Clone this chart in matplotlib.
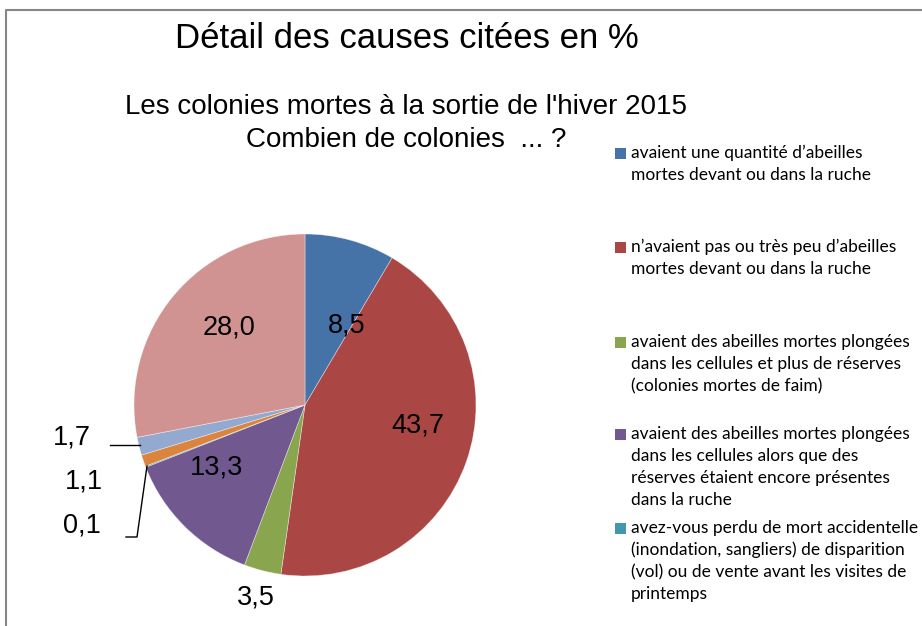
import matplotlib.pyplot as plt
from matplotlib.patches import Rectangle

# data
values = [8.5, 43.7, 3.5, 13.3, 0.1, 1.1, 1.7, 28.0]
value_labels = ['8,5', '43,7', '3,5', '13,3', '0,1', '1,1', '1,7', '28,0']
colors = ['#4572A7', '#AA4643', '#89A54E', '#71588F', '#4198AF', '#DB843D', '#93A9CF', '#D19392']
legend_labels = [
    ["avaient une quantité d\u2019abeilles", "mortes devant ou dans la ruche"],
    ["n\u2019avaient pas ou très peu d\u2019abeilles", "mortes devant ou dans la ruche"],
    ["avaient des abeilles mortes plongées", "dans les cellules et plus de réserves",
     "(colonies mortes de faim)"],
    ["avaient des abeilles mortes plongées", "dans les cellules alors que des",
     "réserves étaient encore présentes", "dans la ruche"],
    ["avez-vous perdu de mort accidentelle", "(inondation, sangliers) de disparition",
     "(vol) ou de vente avant les visites de", "printemps"],
]

W, H = 922, 626
fig = plt.figure(figsize=(W / 100, H / 100), dpi=100)
ax = fig.add_axes([0, 0, 1, 1])

def py(y):
    return H - y

# frame (cut on right and bottom)
ax.plot([6, 6, W + 5], [-5, py(10), py(10)], color='#878787', lw=1.5, solid_capstyle='butt')

ax.pie(values, colors=colors, startangle=90, counterclock=False,
       center=(305, py(405)), radius=171, frame=True,
       wedgeprops=dict(linewidth=0.5, edgecolor=(1, 1, 1, 0.5)))
ax.set_xlim(0, W)
ax.set_ylim(0, H)
ax.set_aspect('equal')
ax.axis('off')

# titles
ax.text(407, py(39), 'Détail des causes citées en %', fontsize=25,
        family='Liberation Sans', ha='center', va='center')
ax.text(406, py(107), "Les colonies mortes à la sortie de l'hiver 2015", fontsize=20,
        family='Liberation Sans', ha='center', va='center')
ax.text(406, py(140), 'Combien de colonies  ... ?', fontsize=20,
        family='Liberation Sans', ha='center', va='center')

# data labels
label_pos = [(347, 325), (418, 426), (256, 597), (217, 467), (82, 525), (84, 482), (72, 437), (229, 327)]
for (x, y), t in zip(label_pos, value_labels):
    ax.text(x, py(y), t, fontsize=19.5, family='Liberation Sans', ha='center', va='center')

# leader lines
ax.plot([110, 140], [py(445), py(445)], color='black', lw=1)
ax.plot([126, 137, 147], [py(537), py(537), py(466)], color='black', lw=1)

# legend
entry_y = [153, 247, 342, 434, 528]
for (ey, lines, c) in zip(entry_y, legend_labels, colors):
    ax.add_patch(Rectangle((615, py(ey) - 5.5), 11, 11, color=c, lw=0))
    for i, line in enumerate(lines):
        ax.text(631, py(ey + i * 22), line, fontsize=12.5, family='Lato',
                ha='left', va='center')

fig.savefig('out.png', dpi=100)
